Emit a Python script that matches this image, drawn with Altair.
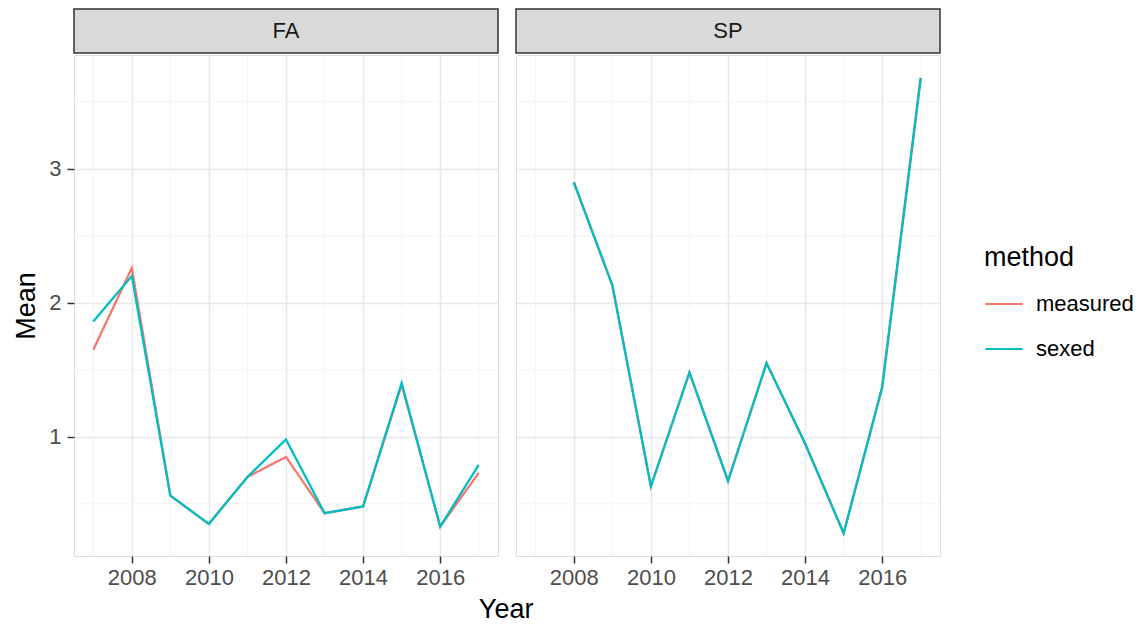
import altair as alt
import pandas as pd

# ---- data ----
fa_years = list(range(2007, 2018))
fa_measured = [1.65, 2.26, 0.56, 0.35, 0.70, 0.85, 0.43, 0.48, 1.39, 0.33, 0.73]
fa_sexed = [1.86, 2.20, 0.56, 0.35, 0.70, 0.98, 0.43, 0.48, 1.40, 0.33, 0.79]
sp_years = list(range(2008, 2018))
sp_measured = [2.90, 2.13, 0.63, 1.48, 0.67, 1.55, 0.95, 0.28, 1.37, 3.68]
sp_sexed = [2.90, 2.13, 0.63, 1.48, 0.67, 1.55, 0.95, 0.28, 1.37, 3.68]
methods = ["measured", "sexed"]
colors = ["#F8766D", "#00BFC4"]
panels = ["FA", "SP"]
y_major = [1, 2, 3]
y_minor = [0.5, 1.5, 2.5, 3.5]
x_major = [2008, 2010, 2012, 2014, 2016]
x_minor = [2007, 2009, 2011, 2013, 2015, 2017]

FONT = "Liberation Sans"


def long_df(years, meas, sexd):
    rows = []
    for m, vals in zip(methods, [meas, sexd]):
        for yr, v in zip(years, vals):
            rows.append({"Year": yr, "Mean": v, "method": m})
    return pd.DataFrame(rows)


fa_df = long_df(fa_years, fa_measured, fa_sexed)
sp_df = long_df(sp_years, sp_measured, sp_sexed)

PW, PH, SH = 424, 501, 44

GRID_MAJOR = "#e8e8e8"
GRID_MINOR = "#f3f3f3"

x_scale = alt.Scale(domain=[2006.5, 2017.5], nice=False, zero=False)
y_scale = alt.Scale(domain=[0.11, 3.85], nice=False, zero=False)


def y_axis(show):
    if show:
        return alt.Axis(
            title="Mean", values=y_major, format="d", domain=False,
            gridColor=GRID_MAJOR, gridWidth=1.5,
            tickColor="#333333", tickSize=7, tickWidth=1.5,
            labelFontSize=22, labelColor="#4d4d4d", labelPadding=6, labelFont=FONT,
            titleFontSize=27, titleColor="black", titleFontWeight="normal", titleFont=FONT,
            titlePadding=8,
        )
    return alt.Axis(title=None, values=y_major, labels=False, ticks=False, domain=False,
                    gridColor=GRID_MAJOR, gridWidth=1.5)


def x_axis():
    return alt.Axis(
        title=None, values=x_major, format="d", domain=False,
        gridColor=GRID_MAJOR, gridWidth=1.5,
        tickColor="#333333", tickSize=7, tickWidth=1.5,
        labelFontSize=22, labelColor="#4d4d4d", labelPadding=4, labelFont=FONT,
    )


legend = alt.Legend(
    title="method", orient="none", legendX=910, legendY=236,
    titleFontSize=27, titleColor="black", titleFontWeight="normal", titleFont=FONT, titlePadding=12,
    labelFontSize=22, labelColor="black", labelFont=FONT, labelOffset=12,
    symbolType="stroke", symbolSize=1369, symbolStrokeWidth=2.2, rowPadding=14,
)


def panel(df, first):
    xa = x_axis()
    ya = y_axis(first)
    ygrid = alt.Chart(pd.DataFrame({"Mean": y_minor})).mark_rule(
        color=GRID_MINOR, strokeWidth=0.9
    ).encode(y=alt.Y("Mean:Q", scale=y_scale, axis=ya))
    xgrid = alt.Chart(pd.DataFrame({"Year": x_minor})).mark_rule(
        color=GRID_MINOR, strokeWidth=0.9
    ).encode(x=alt.X("Year:Q", scale=x_scale, axis=xa))
    lines = alt.Chart(df).mark_line(strokeWidth=2.3).encode(
        x=alt.X("Year:Q", scale=x_scale, axis=xa),
        y=alt.Y("Mean:Q", scale=y_scale, axis=ya),
        color=alt.Color("method:N", scale=alt.Scale(domain=methods, range=colors), legend=legend),
        order=alt.Order("Year:Q"),
    )
    return alt.layer(ygrid, xgrid, lines).properties(width=PW, height=PH)


def strip(name):
    return alt.Chart(pd.DataFrame({"panel": [name]})).mark_text(
        fontSize=22, color="#1a1a1a", font=FONT, baseline="middle", align="center"
    ).encode(
        x=alt.value(PW / 2), y=alt.value(SH / 2), text="panel:N"
    ).properties(width=PW, height=SH,
                 view=alt.ViewBackground(fill="#d9d9d9", stroke="#333333", strokeWidth=1.5))


left = alt.vconcat(strip(panels[0]), panel(fa_df, True), spacing=0)
right = alt.vconcat(strip(panels[1]), panel(sp_df, False), spacing=0)

chart = alt.hconcat(left, right, spacing=16).properties(
    title=alt.TitleParams(
        "Year", orient="bottom", anchor="middle", frame="bounds", dx=-67, offset=8,
        fontSize=27, font=FONT, fontWeight="normal", color="black",
    ),
    padding={"left": 4, "top": 0, "right": 0, "bottom": 0},
    background="white",
).configure_view(stroke="#333333", strokeWidth=1.5).configure(font=FONT)

chart.save("out.html", embed_options={"renderer": "svg", "actions": False})
